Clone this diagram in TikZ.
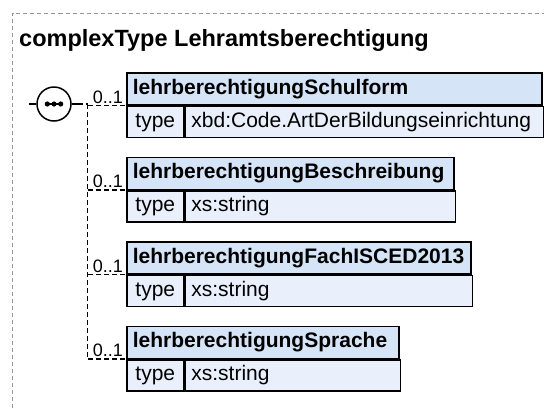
\documentclass[tikz,border=0pt]{standalone}
\usepackage{fontspec}
\setmainfont{Liberation Sans}
\definecolor{nameblue}{RGB}{214,228,248}
\definecolor{typeblue}{RGB}{233,240,252}
\definecolor{framegray}{RGB}{150,150,150}
\tikzset{
  namebox/.style={draw, line width=1.6pt, fill=nameblue, anchor=north west,
    font=\bfseries\fontsize{21}{25}\selectfont, minimum height=32pt,
    inner xsep=6pt, inner ysep=0pt, text height=15pt, text depth=4.5pt, align=left},
  typelbl/.style={draw, line width=1.6pt, fill=typeblue, anchor=north west,
    font=\fontsize{21}{25}\selectfont, minimum height=31pt, minimum width=57pt,
    inner sep=0pt, text height=15pt, text depth=4.5pt},
  typeval/.style={draw, line width=1.6pt, fill=typeblue, anchor=north west,
    font=\fontsize{21}{25}\selectfont, minimum height=31pt,
    inner xsep=6pt, inner ysep=0pt, text height=15pt, text depth=4.5pt, align=left},
  conn/.style={line width=1.4pt, dash pattern=on 5pt off 3pt},
  card/.style={anchor=south east, font=\fontsize{18}{21}\selectfont, inner sep=1pt},
  seqnode/.style={circle, draw, line width=1.5pt, fill=white, minimum size=34pt, inner sep=0pt},
}
\begin{document}
\begin{tikzpicture}[x=1pt,y=-1pt]
\useasboundingbox (0,0) rectangle (544,408);
% frame
\draw[framegray, line width=0.9pt, dash pattern=on 4pt off 3pt] (12.5,408) -- (12.5,13) -- (544,13);
\node[anchor=base west, inner sep=0pt, font=\bfseries\fontsize{23.5}{28}\selectfont] (title) at (19,46) {complexType Lehramtsberechtigung};
% sequence compositor
\node[seqnode] (seq) at (54,104) {};
\draw[line width=1.4pt] (seq.west) -- ++(-7,0);
\coordinate (seqout) at ([xshift=6pt]seq.east);
\draw[line width=1.4pt] (seq.east) -- (seqout);
\draw[line width=1.4pt] ([xshift=-9pt]seq.center) -- ([xshift=9pt]seq.center);
\foreach \dx in {-6.7,0,6.7} \fill ([xshift=\dx pt]seq.center) circle (2.6pt);
% boxes
\node[namebox, text width=403pt] (n1) at (126,72) {lehrberechtigungSchulform};
\node[typelbl] (t1) at (n1.south west) {type};
\node[typeval, text width=346pt] (v1) at (t1.north east) {xbd:Code.ArtDerBildungseinrichtung};

\node[namebox, text width=315pt] (n2) at (126,156.5) {lehrberechtigungBeschreibung};
\node[typelbl] (t2) at (n2.south west) {type};
\node[typeval, text width=258pt] (v2) at (t2.north east) {xs:string};

\node[namebox, text width=332pt] (n3) at (126,241) {lehrberechtigungFachISCED2013};
\node[typelbl] (t3) at (n3.south west) {type};
\node[typeval, text width=275pt] (v3) at (t3.north east) {xs:string};

\node[namebox, text width=260pt] (n4) at (126,325.5) {lehrberechtigungSprache};
\node[typelbl] (t4) at (n4.south west) {type};
\node[typeval, text width=203pt] (v4) at (t4.north east) {xs:string};
% connectors
\coordinate (trunk) at (87.5,104);
\draw[conn] (seqout) -- (trunk);
\draw[conn] (trunk) |- (n4.south west);
\foreach \i in {1,2,3} \draw[conn] (n\i.south west -| trunk) -- (n\i.south west);
\foreach \i in {1,2,3,4} \node[card] at ([xshift=-2pt,yshift=1pt]n\i.south west) {0..1};
\end{tikzpicture}
\end{document}
